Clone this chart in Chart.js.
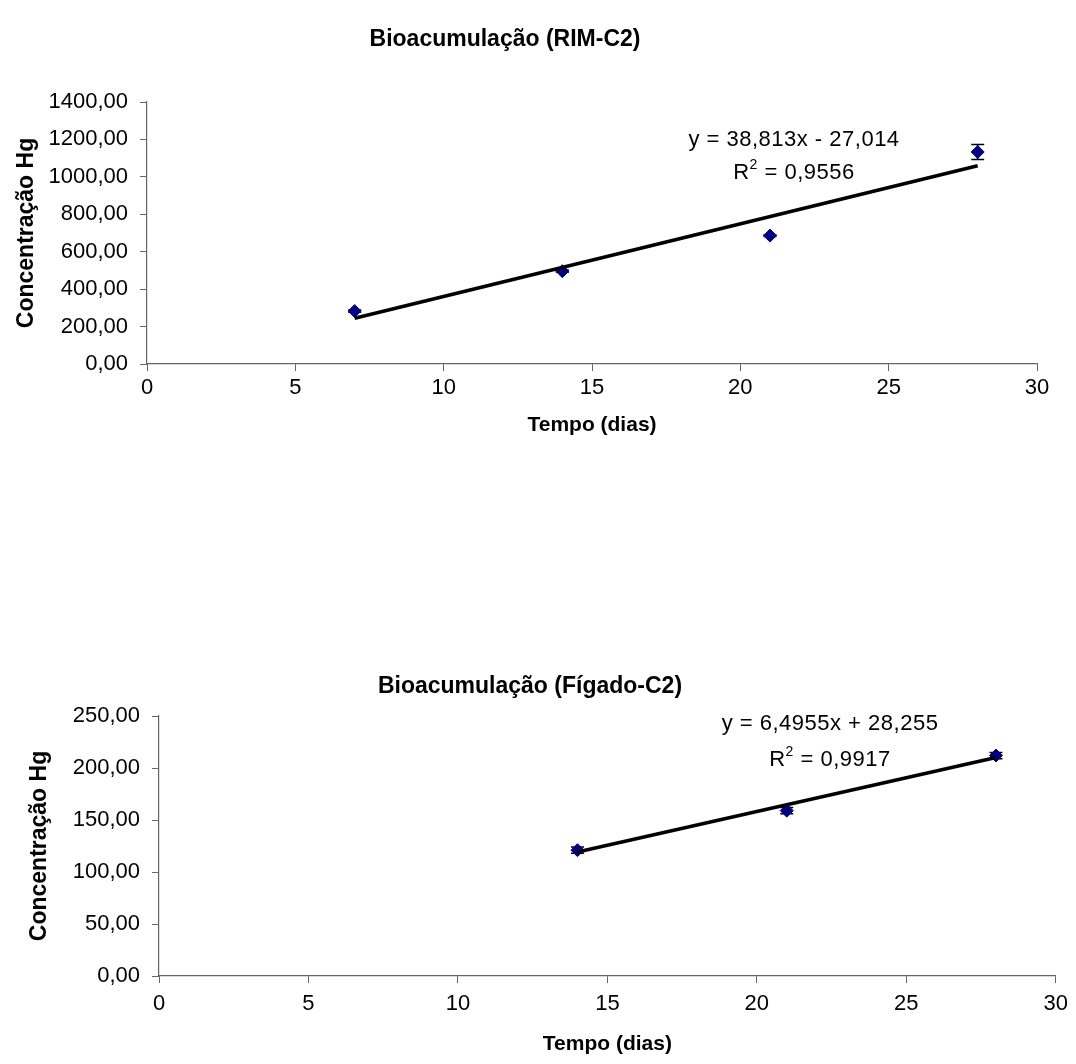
<!DOCTYPE html>
<html lang="pt">
<head>
<meta charset="utf-8">
<title>Bioacumulação</title>
<script src="https://cdn.jsdelivr.net/npm/chart.js@4.4.1/dist/chart.umd.min.js"></script>
<style>
    html, body { margin: 0; padding: 0; background: #fff; }
    #wrap { position: relative; width: 1076px; height: 1064px; }
    canvas { position: absolute; left: 0; }
    #rimChart { top: 0; }
    #figChart { top: 520px; }
</style>
</head>
<body>
<div id="wrap">
    <canvas id="rimChart" width="1076" height="520"></canvas>
    <canvas id="figChart" width="1076" height="544"></canvas>
</div>
<script>
// Rim (kidney) - C2
const rimDias = [7, 14, 21, 28];
const rimHg = [283, 496, 686, 1133];
const rimErro = [6, 6, 5, 40];
const rimTrend = [38.813, -27.014];   // slope, intercept (as printed)
const rimEquacao = ['y = 38,813x - 27,014', '0,9556'];

// Fígado (liver) - C2
const figDias = [14, 21, 28];
const figHg = [121, 159, 212];
const figErro = [3, 3, 3];
const figTrend = [6.4955, 28.255];
const figEquacao = ['y = 6,4955x + 28,255', '0,9917'];

const xTicks = [0, 5, 10, 15, 20, 25, 30];
const rimYTicks = [0, 200, 400, 600, 800, 1000, 1200, 1400];
const figYTicks = [0, 50, 100, 150, 200, 250];

const FONT = '"Liberation Sans", Arial, sans-serif';
const fmt = (v) => v.toFixed(2).replace('.', ',');

// error bars drawn from the value arrays through the y scale (under the markers)
const errorBars = {
    id: 'errorBars',
    beforeDatasetsDraw(chart, args, opts) {
        const errs = opts.errors;
        if (!errs) return;
        const ctx = chart.ctx;
        const ys = chart.scales.y;
        const ds = chart.data.datasets[1];
        const meta = chart.getDatasetMeta(1);
        ctx.save();
        ctx.strokeStyle = '#000';
        ctx.lineWidth = 1.5;
        meta.data.forEach((pt, i) => {
            const v = ds.data[i].y;
            const top = ys.getPixelForValue(v + errs[i]);
            const bot = ys.getPixelForValue(v - errs[i]);
            ctx.beginPath();
            ctx.moveTo(pt.x, top); ctx.lineTo(pt.x, bot);
            ctx.moveTo(pt.x - 6.5, top); ctx.lineTo(pt.x + 6.5, top);
            ctx.moveTo(pt.x - 6.5, bot); ctx.lineTo(pt.x + 6.5, bot);
            ctx.stroke();
        });
        ctx.restore();
    }
};

// chart title + trendline equation text
const labels = {
    id: 'labels',
    afterDraw(chart, args, opts) {
        const ctx = chart.ctx;
        ctx.save();
        ctx.fillStyle = '#000';
        ctx.textBaseline = 'middle';
        ctx.textAlign = 'center';
        ctx.font = 'bold 23px ' + FONT;
        ctx.fillText(opts.title, opts.titleX, opts.titleY);

        ctx.letterSpacing = '0.5px';
        ctx.font = '22px ' + FONT;
        ctx.fillText(opts.eq[0], opts.eqX, opts.eqY);
        // R² line with raised 2
        const rest = ' = ' + opts.eq[1];
        const wR = ctx.measureText('R').width;
        ctx.font = '14px ' + FONT;
        const w2 = ctx.measureText('2').width;
        ctx.font = '22px ' + FONT;
        const wRest = ctx.measureText(rest).width;
        let x = opts.eqX - (wR + w2 + wRest) / 2;
        const y = opts.eqY + opts.eqGap;
        ctx.textAlign = 'left';
        ctx.fillText('R', x, y);
        ctx.font = '14px ' + FONT;
        ctx.fillText('2', x + wR, y - 8);
        ctx.font = '22px ' + FONT;
        ctx.fillText(rest, x + wR + w2, y);
        ctx.restore();
    }
};

function makeChart(id, cfg) {
    const first = cfg.dias[0];
    const last = cfg.dias[cfg.dias.length - 1];
    const trend = [
        { x: first, y: cfg.trend[0] * first + cfg.trend[1] },
        { x: last, y: cfg.trend[0] * last + cfg.trend[1] }
    ];
    const pts = cfg.dias.map((d, i) => ({ x: d, y: cfg.hg[i] }));
    const canvas = document.getElementById(id);
    const H = canvas.height;

    return new Chart(canvas.getContext('2d'), {
        type: 'scatter',
        data: {
            datasets: [
                {
                    type: 'line',
                    data: trend,
                    borderColor: '#000',
                    borderWidth: 3.5,
                    pointRadius: 0,
                    fill: false,
                },
                {
                    data: pts,
                    pointStyle: 'rectRot',
                    pointRadius: 6.5,
                    pointBackgroundColor: '#000080',
                    pointBorderColor: '#000080',
                    pointBorderWidth: 1,
                }
            ]
        },
        options: {
            responsive: false,
            animation: false,
            events: [],
            layout: { padding: { top: cfg.area.top, right: 1076 - cfg.area.right, left: 0, bottom: 0 } },
            plugins: {
                legend: { display: false },
                tooltip: { enabled: false },
                errorBars: { errors: cfg.erro },
                labels: {
                    title: cfg.title, titleX: cfg.titleX, titleY: cfg.titleY,
                    eq: cfg.eq, eqX: cfg.eqX, eqY: cfg.eqY, eqGap: cfg.eqGap
                }
            },
            scales: {
                x: {
                    type: 'linear',
                    min: xTicks[0],
                    max: xTicks[xTicks.length - 1],
                    afterBuildTicks: (s) => { s.ticks = xTicks.map(v => ({ value: v })); },
                    afterFit: (s) => { s.height = H - cfg.area.bottom; },
                    grid: { drawOnChartArea: false, tickLength: 7, tickColor: '#666' },
                    border: { color: '#666', width: 1.2 },
                    ticks: { color: '#000', font: { family: FONT, size: 22 }, padding: cfg.xTickPad },
                    title: {
                        display: true, text: 'Tempo (dias)', color: '#000',
                        font: { family: FONT, size: 21, weight: 'bold' },
                        padding: { top: 0, bottom: cfg.xTitlePad }
                    }
                },
                y: {
                    min: cfg.yTicks[0],
                    max: cfg.yTicks[cfg.yTicks.length - 1],
                    afterBuildTicks: (s) => { s.ticks = cfg.yTicks.map(v => ({ value: v })); },
                    afterFit: (s) => { s.width = cfg.area.left; },
                    grid: { drawOnChartArea: false, tickLength: 7, tickColor: '#666' },
                    border: { color: '#666', width: 1.2 },
                    ticks: { color: '#000', font: { family: FONT, size: 22 }, padding: 12, callback: (v) => fmt(v) },
                    title: {
                        display: true, text: 'Concentração Hg', color: '#000',
                        font: { family: FONT, size: 23, weight: 'bold' },
                        padding: { top: cfg.yTitlePad, bottom: 0 }
                    }
                }
            }
        },
        plugins: [errorBars, labels]
    });
}

makeChart('rimChart', {
    dias: rimDias, hg: rimHg, erro: rimErro, trend: rimTrend, yTicks: rimYTicks,
    title: 'Bioacumulação (RIM-C2)', titleX: 505, titleY: 40,
    eq: rimEquacao, eqX: 794, eqY: 140, eqGap: 33,
    area: { left: 147, right: 1037, top: 102, bottom: 364 },
    xTickPad: 4, xTitlePad: 82, yTitlePad: 13
});

makeChart('figChart', {
    dias: figDias, hg: figHg, erro: figErro, trend: figTrend, yTicks: figYTicks,
    title: 'Bioacumulação (Fígado-C2)', titleX: 530, titleY: 167,
    eq: figEquacao, eqX: 830, eqY: 204, eqGap: 36,
    area: { left: 159, right: 1056, top: 196, bottom: 456 },
    xTickPad: 8, xTitlePad: 7, yTitlePad: 26
});
</script>
</body>
</html>
